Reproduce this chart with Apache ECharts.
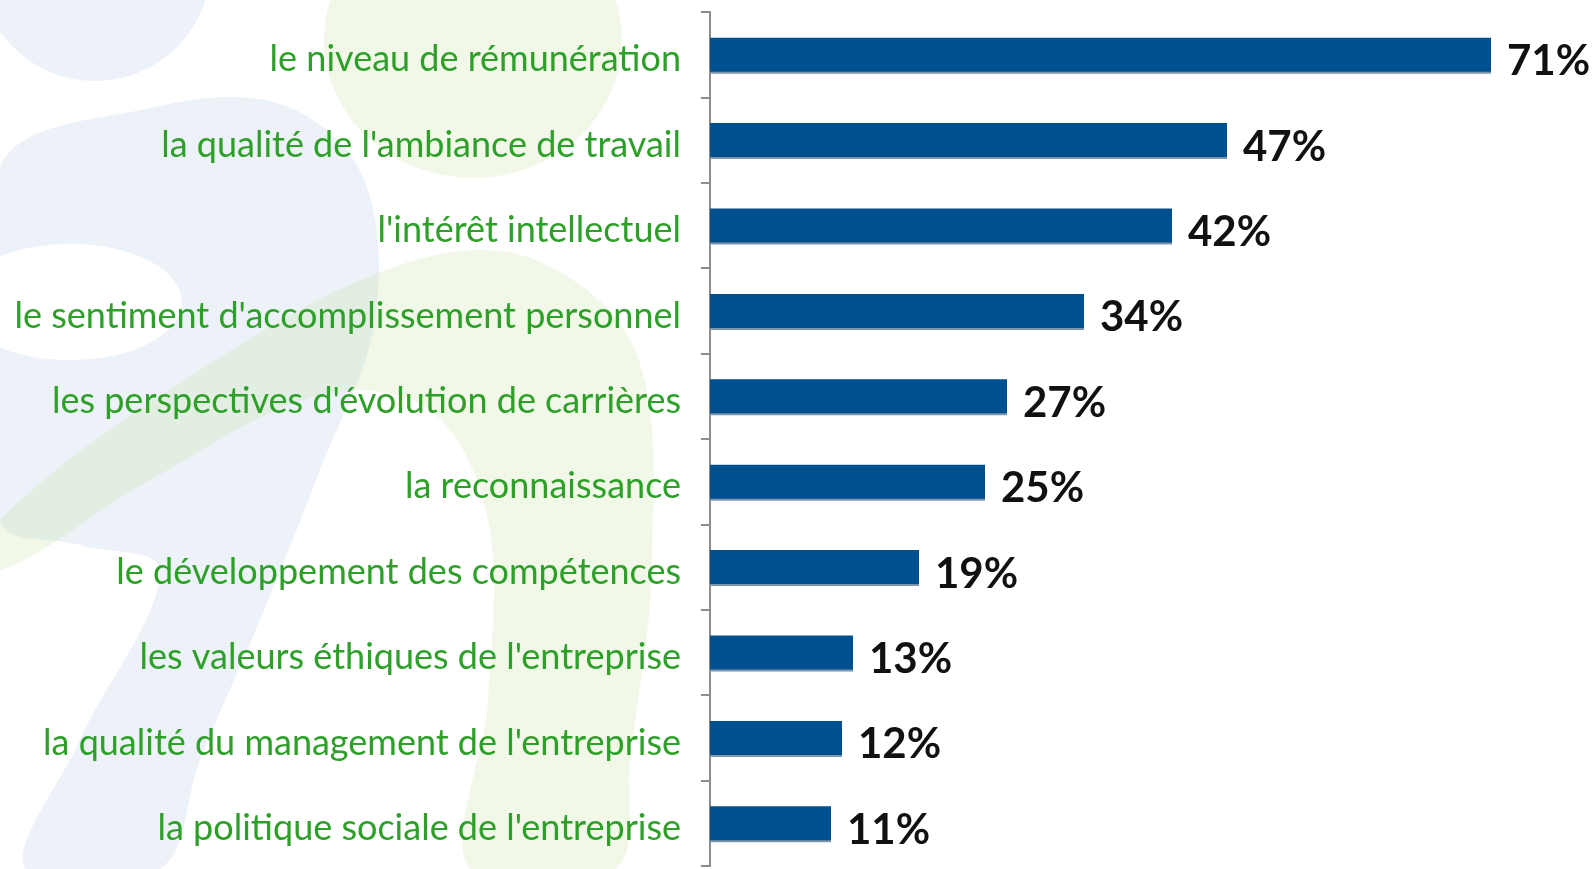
<!DOCTYPE html>
<html>
<head>
<meta charset="utf-8">
<script src="https://cdn.jsdelivr.net/npm/echarts@6/dist/echarts.min.js"></script>
<style>
  html, body { margin: 0; padding: 0; background: #fff; }
  #chart { width: 1595px; height: 869px; }
</style>
</head>
<body>
<div id="chart"></div>
<script>
// --- data ---
const categories = [
    "le niveau de rémunération",
    "la qualité de l'ambiance de travail",
    "l'intérêt intellectuel",
    "le sentiment d'accomplissement personnel",
    "les perspectives d'évolution de carrières",
    "la reconnaissance",
    "le développement des compétences",
    "les valeurs éthiques de l'entreprise",
    "la qualité du management de l'entreprise",
    "la politique sociale de l'entreprise"
];
const values = [71, 47, 42, 34, 27, 25, 19, 13, 12, 11];

const labelFont = "Lato, 'Noto Sans', sans-serif";

const chart = echarts.init(document.getElementById('chart'));

// faint decorative shapes behind the chart
const bgBlue = 'rgba(175,198,226,0.23)';
const bgGreen = 'rgba(200,226,160,0.24)';

chart.setOption({
    backgroundColor: '#fff',
    animation: false,
    graphic: [
        { type: 'circle', z: -10, shape: { cx: 95, cy: -35, r: 116 }, style: { fill: bgBlue } },
        { type: 'polygon', z: -10, shape: {
            smooth: 0.35,
            points: [[0,168],[150,108],[280,104],[362,175],[375,320],[320,470],[260,620],[200,760],[160,869],[25,869],[80,740],[160,570],[80,545],[0,520]]
        }, style: { fill: bgBlue } },
        { type: 'circle', z: -9, x: 70, y: 302, scaleY: 0.52, shape: { cx: 0, cy: 0, r: 112 }, style: { fill: '#fff' } },
        { type: 'circle', z: -10, x: 473, y: 40, scaleX: 1.08, shape: { cx: 0, cy: 0, r: 138 }, style: { fill: bgGreen } },
        { type: 'polygon', z: -8, shape: {
            smooth: 0.35,
            points: [[0,520],[200,370],[400,265],[530,258],[635,350],[652,560],[630,760],[615,869],[470,869],[488,700],[488,520],[430,410],[320,395],[150,480],[0,570]]
        }, style: { fill: bgGreen } }
    ],
    grid: { left: 710, top: 12, width: 880, height: 854, outerBoundsMode: 'none', containLabel: false },
    xAxis: {
        type: 'value',
        min: 0,
        max: 80,
        show: false
    },
    yAxis: {
        type: 'category',
        data: categories,
        inverse: true,
        axisLine: { show: true, lineStyle: { color: '#8c8c8c', width: 2 } },
        axisTick: { show: true, length: 9, lineStyle: { color: '#8c8c8c', width: 2 } },
        axisLabel: {
            margin: 29,
            color: '#2ea02a',
            fontFamily: labelFont,
            fontSize: 36,
            formatter: v => '{t|' + v + '}',
            rich: { t: { padding: [10, 0, 0, 0], color: '#2ea02a', fontFamily: labelFont, fontSize: 36 } }
        },
        splitLine: { show: false }
    },
    series: [{
        type: 'bar',
        data: values,
        barWidth: 34,
        itemStyle: {
            color: '#00508f',
            shadowColor: '#7d95ad',
            shadowOffsetY: 2,
            shadowBlur: 0
        },
        label: {
            show: true,
            position: 'right',
            distance: 16,
            offset: [0, 7],
            color: '#111',
            fontFamily: labelFont,
            fontWeight: 'bold',
            fontSize: 42,
            formatter: '{c}%'
        }
    }]
});
</script>
</body>
</html>
